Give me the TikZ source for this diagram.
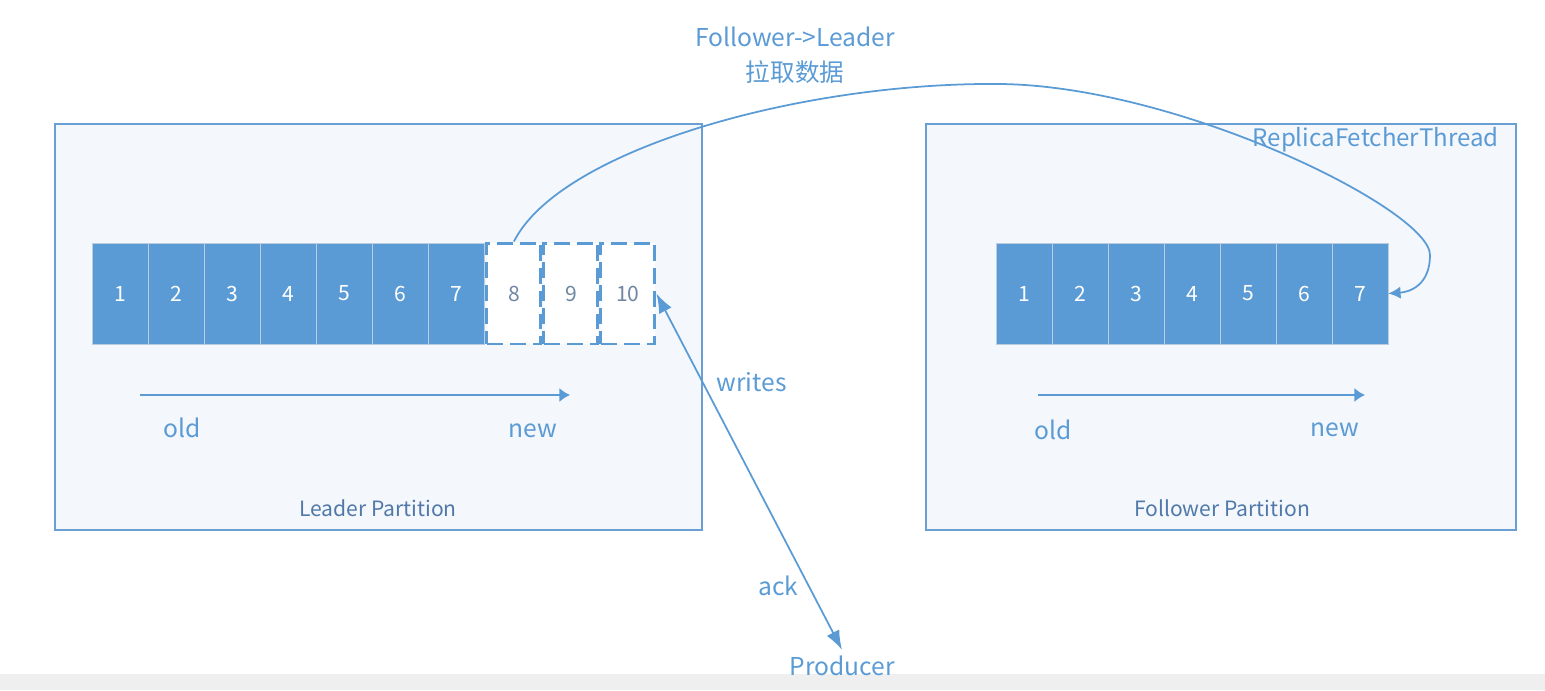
\documentclass[tikz,border=0pt]{standalone}
\usepackage{fontspec}
\setmainfont{Noto Sans CJK SC}
\usetikzlibrary{positioning,arrows.meta}
\definecolor{kblue}{HTML}{5B9BD5}
\definecolor{kline}{HTML}{6A9FD4}
\definecolor{kgrid}{HTML}{B9CCE0}
\definecolor{kpale}{HTML}{F4F7FB}
\definecolor{kdigit}{HTML}{6F87A3}
\definecolor{kname}{HTML}{5079AA}
\definecolor{kband}{HTML}{EFEFEF}
\tikzset{box style/.style={
		draw=kline,
		line width=1pt,
		fill=kpale,
		rectangle,
		minimum width=#1,
		minimum height=8.12cm,
		inner sep=0pt,
	},
	cell style/.style={
		draw=kgrid,
		thin,
		fill=kblue,
		text=white,
		rectangle,
		minimum width=1.12cm,
		minimum height=2.02cm,
		inner sep=0pt,
		font=\fontsize{12}{14}\selectfont,
	},
	open style/.style={
		draw=kblue,
		line width=1.7pt,
		dash pattern=on 9pt off 4pt,
		fill=white,
		text=kdigit,
		rectangle,
		minimum width=1.08cm,
		minimum height=2.02cm,
		inner sep=0pt,
		font=\fontsize{12}{14}\selectfont,
	},
	label style/.style={
		text=kblue,
		font=\fontsize{14}{17}\selectfont,
	},
	name style/.style={
		text=kname,
		font=\fontsize{12}{14}\selectfont,
	},
	link style/.style={
		draw=kblue,
		line width=1pt,
		#1,
	}
}

\begin{document}
\begin{tikzpicture}[x=0.02cm,y=-0.02cm,node distance=1.12cm]
	\useasboundingbox (0,0) rectangle (1545,690);
	\fill[kband] (0,674) rectangle (1545,690);
	
	% partitions
	\node[box style=12.94cm] (LeaderBox) at (378.5,327) {};
	\node[box style=11.8cm] (FollowerBox) at (1221,327) {};
	\node[name style] (LeaderName) at (378,508) {Leader Partition};
	\node[name style] (FollowerName) at (1222,508) {Follower Partition};
	\node[label style,anchor=east,font=\fontsize{13.7}{16}\selectfont] (Fetcher) at (1505,140) {ReplicaFetcherThread};
	
	% leader log
	\node[cell style] (L1) at (120,293.5) {1};
	\node[cell style, right of=L1] (L2) {2};
	\node[cell style, right of=L2] (L3) {3};
	\node[cell style, right of=L3] (L4) {4};
	\node[cell style, right of=L4] (L5) {5};
	\node[cell style, right of=L5] (L6) {6};
	\node[cell style, right of=L6] (L7) {7};
	\node[open style, right of=L7,xshift=0.04cm] (L8) {8};
	\node[open style, right of=L8,xshift=0.02cm] (L9) {9};
	\node[open style, right of=L9,xshift=0.02cm] (L10) {10};
	
	% follower log
	\node[cell style] (F1) at (1024,293.5) {1};
	\node[cell style, right of=F1] (F2) {2};
	\node[cell style, right of=F2] (F3) {3};
	\node[cell style, right of=F3] (F4) {4};
	\node[cell style, right of=F4] (F5) {5};
	\node[cell style, right of=F5] (F6) {6};
	\node[cell style, right of=F6] (F7) {7};
	
	% old -> new
	\coordinate (LeaderOld) at (140,395);
	\coordinate (LeaderNew) at (570,395);
	\coordinate (FollowerOld) at (1038,395);
	\coordinate (FollowerNew) at (1365,395);
	\draw[link style={-{Latex[length=6pt,width=8pt]}}] (LeaderOld) -- (LeaderNew);
	\draw[link style={-{Latex[length=6pt,width=8pt]}}] (FollowerOld) -- (FollowerNew);
	\node[label style] (OldL) at (182,428) {old};
	\node[label style] (NewL) at (533,431) {new};
	\node[label style] (OldF) at (1053,430) {old};
	\node[label style] (NewF) at (1335,430) {new};
	
	% fetch
	\node[label style,align=center] (Fetch) at (795,55) {Follower->Leader\\[3pt]拉取数据};
	\draw[link style={-{Latex[length=7pt,width=7pt]}}] (L8.north)
	.. controls (560,150) and (800,82) .. (1000,84)
	.. controls (1180,86) and (1430,210) .. (1430,255)
	.. controls (1430,285) and (1410,292) .. (F7.east);
	
	% producer
	\node[label style] (Producer) at (842,666) {Producer};
	\draw[link style={{Latex[length=11pt,width=8pt]}-{Latex[length=11pt,width=8pt]}}] (L10.east) -- (Producer.north)
	node[label style,pos=0.25,right,xshift=4pt] (Writes) {writes}
	node[label style,pos=0.82,left,xshift=-2pt] (Ack) {ack};
\end{tikzpicture}
\end{document}
